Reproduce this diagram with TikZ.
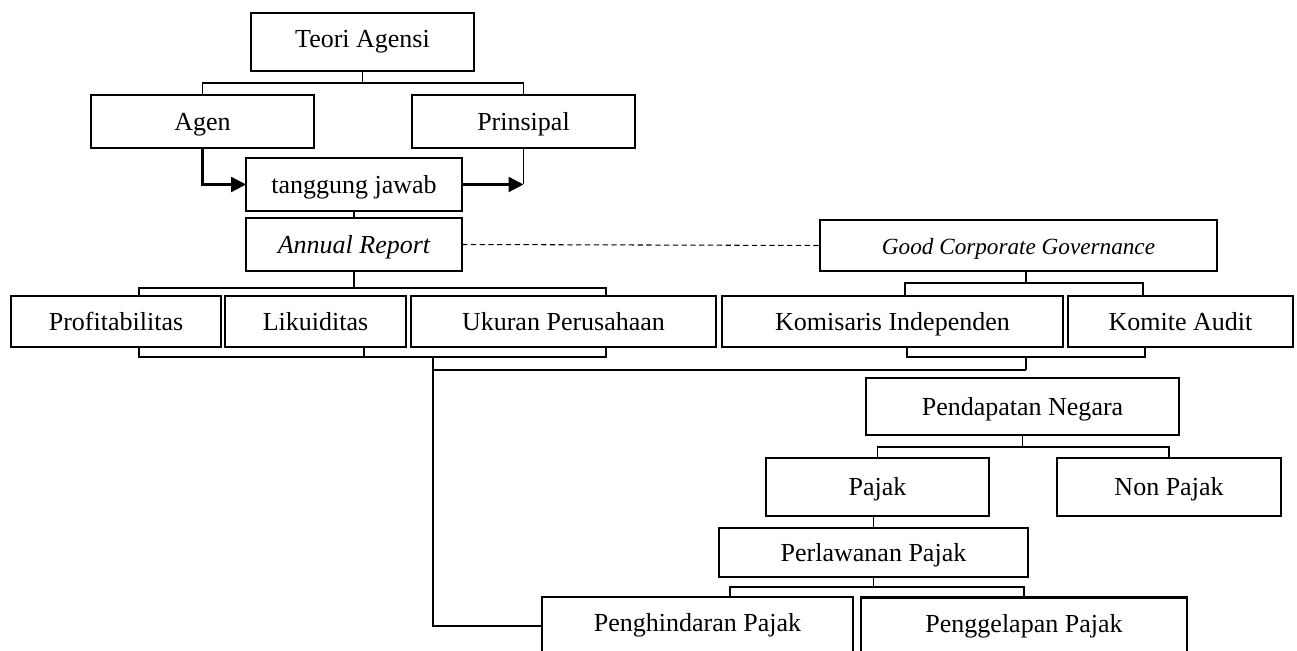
\documentclass[tikz,border=0pt]{standalone}
\usepackage{fontspec}
\setmainfont{Liberation Serif}
\usetikzlibrary{arrows.meta,calc}

\tikzstyle{every node}=[font=\fontsize{14.8}{17}\selectfont]
\tikzstyle{box}=[draw, line width=1.4pt, inner sep=0pt, outer sep=0pt, text height=9.7pt, text depth=0pt]
\tikzstyle{conn}=[line width=0.6pt]
\tikzstyle{arr}=[line width=1.3pt, -{Triangle[length=8.5pt,width=8.5pt]}]

\begin{document}
\begin{tikzpicture}[x=0.02cm, y=-0.02cm]
            \useasboundingbox (0,0) rectangle (1297,651);

            % 上部：代理理论
            \node[box, minimum width=4.46cm, minimum height=1.16cm, text depth=3.5pt] (teori) at (362.5,42) {Teori Agensi};
            \node[box, minimum width=4.46cm, minimum height=1.06cm] (agen) at (202.5,121.5) {Agen};
            \node[box, minimum width=4.46cm, minimum height=1.06cm] (prinsipal) at (523.5,121.5) {Prinsipal};
            \node[box, minimum width=4.32cm, minimum height=1.06cm] (tanggung) at (354,184.5) {tanggung jawab};
            \node[box, minimum width=4.32cm, minimum height=1.06cm] (annual) at (354,244.5) {\itshape Annual Report};
            \node[box, minimum width=7.94cm, minimum height=1.02cm, font=\fontsize{13.2}{15}\selectfont\itshape] (gcg) at (1018.5,245.5) {Good Corporate Governance};

            % 中间一行
            \node[box, minimum width=4.2cm, minimum height=1.02cm] (profit) at (116,321.5) {Profitabilitas};
            \node[box, minimum width=3.62cm, minimum height=1.02cm] (likuid) at (315.5,321.5) {Likuiditas};
            \node[box, minimum width=6.1cm, minimum height=1.02cm] (ukuran) at (563.5,321.5) {Ukuran Perusahaan};
            \node[box, minimum width=6.82cm, minimum height=1.02cm] (komisaris) at (892.5,321.5) {Komisaris Independen};
            \node[box, minimum width=4.5cm, minimum height=1.02cm] (komite) at (1180.5,321.5) {Komite Audit};

            % 下部：国家收入
            \node[box, minimum width=6.26cm, minimum height=1.14cm] (pendapatan) at (1022.5,406.5) {Pendapatan Negara};
            \node[box, minimum width=4.46cm, minimum height=1.16cm] (pajak) at (877.5,487) {Pajak};
            \node[box, minimum width=4.48cm, minimum height=1.16cm] (nonpajak) at (1169,487) {Non Pajak};
            \node[box, minimum width=6.18cm, minimum height=0.98cm] (perlawanan) at (873.5,552.5) {Perlawanan Pajak};
            \node[box, minimum width=6.22cm, minimum height=1.2cm, text depth=4.5pt] (penghindaran) at (697.5,627) {Penghindaran Pajak};
            \node[box, minimum width=6.52cm, minimum height=1.2cm, text depth=4.5pt] (penggelapan) at (1024,627.5) {Penggelapan Pajak};

            % 连线
            \draw[conn] (teori.south) -- ++(0,12) -| (agen.north);
            \draw[conn] (teori.south) -- ++(0,12) -| (prinsipal.north);
            \draw[arr] (agen.south) |- (tanggung.west);
            \draw[conn] (prinsipal.south) -- (prinsipal.south |- tanggung.east);
            \draw[arr] (tanggung.east) -- (tanggung.east -| prinsipal.south);
            \draw[conn] (tanggung) -- (annual);

            % 虚线
            \draw[conn, dash pattern=on 3pt off 2pt] (annual.east) -- (gcg.west);

            % 左边括号
            \draw[conn] (annual.south) -- ++(0,18);
            \draw[conn] ($(profit.north)+(23,0)$) |- ($(ukuran.north)+(42.5,-8)$) -- ($(ukuran.north)+(42.5,0)$);
            \draw[conn] ($(profit.south)+(23,0)$) -- ++(0,10) coordinate (lbar) -| ($(ukuran.south)+(42.5,0)$);
            \draw[conn] ($(likuid.south)+(48.5,0)$) -- ++(0,10);
            \draw[conn] ($(lbar)+(294,0)$) |- ($(penghindaran.west)+(0,-1)$);

            % 右边括号
            \draw[conn] ($(gcg.south)+(7.5,0)$) -- ++(0,12);
            \draw[conn] ($(komisaris.north)+(12.5,0)$) |- ($(komite.north)+(-37.5,-13)$) -- ($(komite.north)+(-37.5,0)$);
            \draw[conn] ($(komisaris.south)+(14.5,0)$) -- ++(0,10) -| ($(komite.south)+(-35.5,0)$);
            \draw[conn] ($(komisaris.south)+(133.5,10)$) -- ++(0,13) coordinate (rjoin);
            \draw[conn] (rjoin) -- ($(lbar)+(294,13)$);

            % 税收
            \draw[conn] (pendapatan.south) -- ++(0,12) -| (pajak.north);
            \draw[conn] (pendapatan.south) -- ++(0,12) -| (nonpajak.north);
            \draw[conn] (perlawanan.north) -- (perlawanan.north |- pajak.south);
            \draw[conn] (perlawanan.south) -- ++(0,10) -| ($(penghindaran.north)+(32.5,0)$);
            \draw[conn] (perlawanan.south) -- ++(0,10) -| (penggelapan.north);
        \end{tikzpicture}
\end{document}
